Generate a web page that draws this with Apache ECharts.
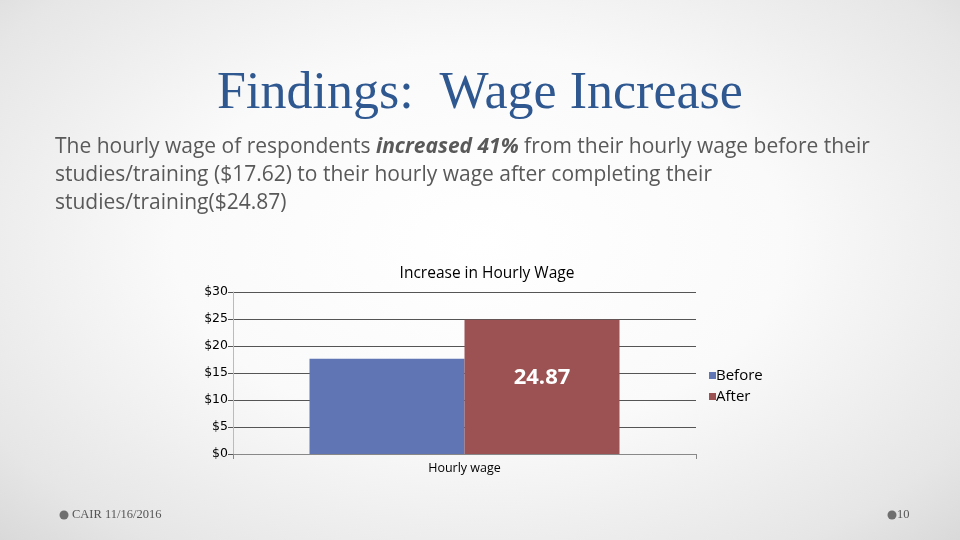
<!DOCTYPE html>
<html><head><meta charset="utf-8">
<script src="https://cdn.jsdelivr.net/npm/echarts@6/dist/echarts.min.js"></script>
<style>
html,body{margin:0;padding:0;}
#c{width:960px;height:540px;background:radial-gradient(ellipse at 50% 45%, #ffffff 0%, #fafafa 45%, #e6e6e6 85%, #d9d9d9 100%);}
</style></head>
<body><div id="c"></div>
<script>
const categories = ['Hourly wage'];
const seriesNames = ['Before', 'After'];
const beforeValues = [17.62];
const afterValues = [24.87];
const yTicks = [0, 5, 10, 15, 20, 25, 30];

const chart = echarts.init(document.getElementById('c'), null, {renderer: 'canvas'});
const bodyFont = '"Open Sans", "Noto Sans", sans-serif';
chart.setOption({
  backgroundColor: 'transparent',
  animation: false,
  title: {
    text: 'Increase in Hourly Wage',
    left: 482, top: 261, textAlign: 'center',
    textStyle: {fontFamily: bodyFont, fontSize: 15.5, fontWeight: 'normal', color: '#000'}
  },
  legend: {
    orient: 'vertical', left: 704, top: 363, itemWidth: 7, itemHeight: 7, itemGap: 6,
    icon: 'rect',
    textStyle: {fontFamily: bodyFont, fontSize: 15, color: '#000', padding: [0,0,0,-5]},
    data: seriesNames
  },
  grid: {left: 233, right: 264, top: 292, bottom: 86},
  xAxis: {
    type: 'category', data: categories,
    axisLine: {lineStyle: {color: '#888', width: 1}},
    axisTick: {show: true, length: 5, lineStyle: {color: '#888'}},
    axisLabel: {fontFamily: bodyFont, fontSize: 12.5, color: '#000', margin: 8}
  },
  yAxis: {
    type: 'value', min: yTicks[0], max: yTicks[yTicks.length-1], interval: 5,
    axisLine: {show: true, lineStyle: {color: '#bbb'}},
    axisTick: {show: true, length: 5, lineStyle: {color: '#555'}},
    splitLine: {lineStyle: {color: '#555', width: 1}},
    axisLabel: {fontFamily: '"DejaVu Sans", sans-serif', fontSize: 12.5, color: '#000', margin: 5,
      formatter: v => '$' + v}
  },
  series: [
    {name: seriesNames[0], type: 'bar', data: beforeValues, barWidth: 155, barGap: '0%',
     itemStyle: {color: '#6076b4'}},
    {name: seriesNames[1], type: 'bar', data: afterValues, barWidth: 155,
     itemStyle: {color: '#9c5252'},
     label: {show: true, position: 'inside', offset: [0, -9], color: '#fff', fontFamily: bodyFont,
       fontWeight: 'bold', fontSize: 22, formatter: p => p.value.toFixed(2)}}
  ],
  graphic: [
    {type: 'text', left: 'center', top: 68, style: {text: 'Findings:  Wage Increase',
      font: '52px "Liberation Serif", "DejaVu Serif", serif', fill: '#2f5891'}},
    {type: 'text', left: 55, top: 137, style: {
      rich: {n: {font: '21px ' + bodyFont, fill: '#595959', lineHeight: 28},
             b: {font: 'italic bold 21px ' + bodyFont, fill: '#595959', lineHeight: 28}},
      text: '{n|The hourly wage of respondents }{b|increased 41%}{n| from their hourly wage before their}\n{n|studies/training ($17.62) to their hourly wage after completing their}\n{n|studies/training($24.87)}'}},
    {type: 'circle', shape: {cx: 64, cy: 515, r: 4.5}, style: {fill: '#6f6f6f'}},
    {type: 'text', left: 72, top: 508, style: {text: 'CAIR 11/16/2016',
      font: '12.5px "Liberation Serif", serif', fill: '#555'}},
    {type: 'circle', shape: {cx: 892, cy: 515, r: 4.5}, style: {fill: '#6f6f6f'}},
    {type: 'text', left: 897, top: 508, style: {text: '10',
      font: '12.5px "Liberation Serif", serif', fill: '#555'}}
  ]
});
</script></body></html>
